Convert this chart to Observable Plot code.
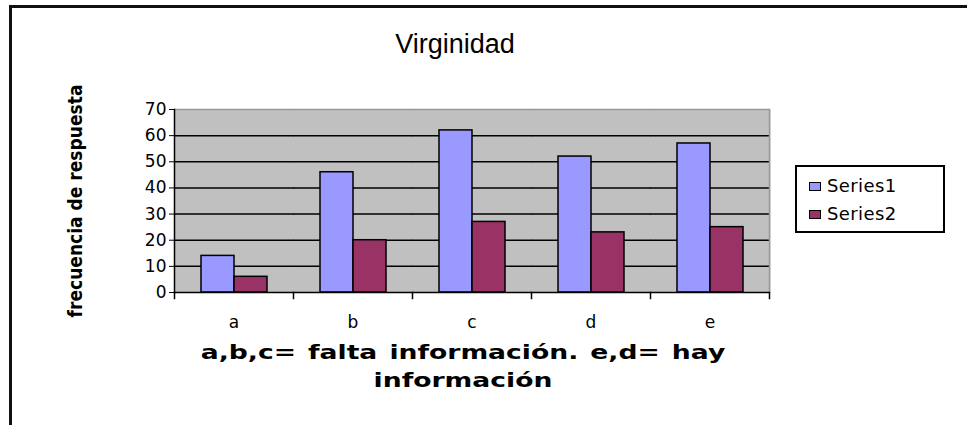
<!DOCTYPE html>
<html><head><meta charset="utf-8">
<script src="https://cdn.jsdelivr.net/npm/d3@7"></script>
<script src="https://cdn.jsdelivr.net/npm/@observablehq/plot@0.6"></script>
<style>
body{margin:0;background:#fff;}
#wrap{position:relative;width:967px;height:425px;overflow:hidden;font-family:"Liberation Sans",Arial,sans-serif;color:#000;}
#chart{position:absolute;left:0;top:0;}
#border{position:absolute;left:9px;top:5px;width:980px;height:440px;border-top:3px solid #111;border-left:3px solid #111;box-sizing:border-box;}
#title{position:absolute;left:0;width:910px;top:29px;text-align:center;font-size:27px;}
#xtitle{position:absolute;left:163px;width:600px;top:338px;text-align:center;font-size:19px;font-weight:bold;line-height:28px;font-family:"DejaVu Sans",sans-serif;}
#xtitle div{transform:scaleX(1.4);transform-origin:center;white-space:nowrap;}
#xtitle .l1{word-spacing:2px;}
#legend{position:absolute;left:795px;top:165px;width:150px;height:68px;border:2px solid #000;box-sizing:border-box;font-family:"DejaVu Sans",sans-serif;font-size:18px;}
.item{position:absolute;left:12px;height:20px;line-height:20px;white-space:nowrap;letter-spacing:0.4px;}
.sw{display:inline-block;width:10px;height:7px;border:1.5px solid #000;margin-right:6px;vertical-align:middle;position:relative;top:-1px;}
</style></head><body>
<div id="wrap">
 <div id="chart"></div>
 <div id="border"></div>
 <div id="title">Virginidad</div>
 <div id="xtitle"><div class="l1">a,b,c= falta información. e,d= hay</div><div class="l2">información</div></div>
 <div id="legend"></div>
</div>
<script>
const categories = ["a", "b", "c", "d", "e"];
const seriesNames = ["Series1", "Series2"];
const series1 = [14, 46, 62, 52, 57];
const series2 = [6, 20, 27, 23, 25];
const yTicks = [0, 10, 20, 30, 40, 50, 60, 70];
const seriesColors = ["#9999ff", "#993366"];
const yLabel = "frecuencia de respuesta";

const rows = categories.flatMap((c, i) => [
  {cat: c, series: seriesNames[0], value: series1[i]},
  {cat: c, series: seriesNames[1], value: series2[i]}
]);

const chart = Plot.plot({
  width: 967, height: 425,
  marginLeft: 173, marginRight: 198, marginTop: 109, marginBottom: 133,
  style: {background: "transparent", fontFamily: "'DejaVu Sans', sans-serif", fontSize: "17px", color: "#000"},
  fx: {domain: categories, padding: 0, axis: "bottom", label: null, tickSize: 0, tickPadding: 23},
  x: {domain: seriesNames, paddingInner: 0, paddingOuter: 0.78, axis: null},
  y: {domain: [0, 70], ticks: yTicks, tickSize: 5, tickPadding: 3, label: yLabel, labelAnchor: "center", labelOffset: 106, labelArrow: "none"},
  color: {domain: seriesNames, range: seriesColors},
  marks: [
    Plot.frame({fill: "#c0c0c0", insetRight: -1}),
    Plot.ruleY(yTicks.filter(d => d > 0 && d < 70), {stroke: "#000", strokeWidth: 1.5, insetRight: -0.5}),
    Plot.ruleY([70], {stroke: "#999", strokeWidth: 1.5, insetRight: -0.5}),
    Plot.frame({anchor: "right", stroke: "#999", strokeWidth: 1.5, facetAnchor: "right"}),
    Plot.barY(rows, {fx: "cat", x: "series", y: "value", fill: "series", stroke: "#000", strokeWidth: 1.5}),
    Plot.ruleY([0], {stroke: "#000", strokeWidth: 1.5, insetRight: -0.5}),
    Plot.frame({anchor: "left", stroke: "#000", strokeWidth: 1.5, facetAnchor: "left"}),
    Plot.frame({anchor: "left", stroke: "#000", strokeWidth: 1.5, insetTop: 183, insetBottom: -6}),
    Plot.frame({anchor: "right", stroke: "#000", strokeWidth: 1.5, insetTop: 183, insetBottom: -6, facetAnchor: "right"})
  ]
});
document.getElementById("chart").appendChild(chart);
d3.select(chart).selectAll("g[aria-label='y-axis label'] text")
  .text(yLabel)
  .style("font-family", "'Liberation Sans Narrow','DejaVu Sans Condensed',sans-serif")
  .style("font-weight", "bold").style("font-size", "19px");

const legend = d3.select("#legend");
seriesNames.forEach((s, i) => {
  const it = legend.append("div").attr("class", "item").style("top", (i === 0 ? 9 : 37) + "px");
  it.append("span").attr("class", "sw").style("background", seriesColors[i]);
  it.append("span").text(s);
});
</script>
</body></html>
